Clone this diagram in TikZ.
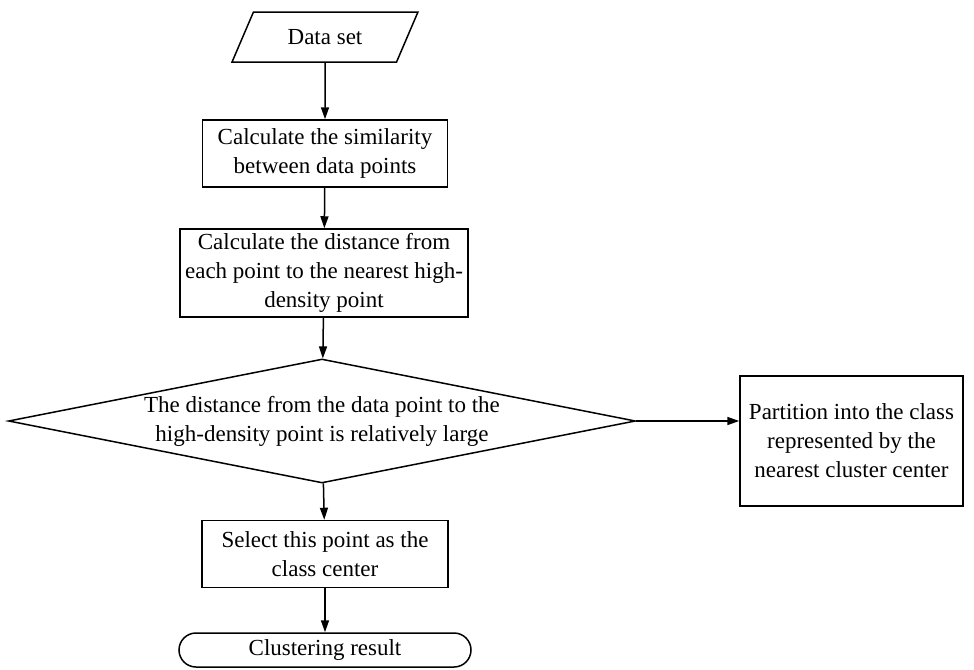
\documentclass[tikz,border=0pt]{standalone}
\usepackage{fontspec}
\setmainfont{Liberation Serif}
\usepackage{tikz}
\usetikzlibrary{arrows.meta,shapes.misc,shapes.geometric}

\tikzset{
  blk/.style={draw,line width=0.75pt,align=center,inner sep=2pt},
  flow/.style={-{Triangle[length=6pt,width=4pt]},line width=0.75pt}
}

\begin{document}
\begin{tikzpicture}[x=0.5pt,y=-0.5pt,font=\fontsize{11.5}{14.5}\selectfont]
  \useasboundingbox (0,0) rectangle (974,669);
  \node[blk,trapezium,trapezium left angle=62,trapezium right angle=118,trapezium stretches=true,
        minimum width=93pt,minimum height=25pt] (data) at (325,37) {Data set};
  \node[blk,minimum width=122.5pt,minimum height=33.5pt] (sim) at (325,153.5)
    {Calculate the similarity\\between data points};
  \node[blk,minimum width=144pt,minimum height=44pt] (dist) at (324,273)
    {Calculate the distance from\\each point to the nearest high-\\density point};
  \node[blk,diamond,aspect=5.06,inner sep=0pt,minimum width=313.5pt,minimum height=62pt] (judge) at (322,421)
    {The distance from the data point to the\\high-density point is relatively large};
  \node[blk,minimum width=111.5pt,minimum height=65pt] (part) at (851.5,441)
    {Partition into the class\\represented by the\\nearest cluster center};
  \node[blk,minimum width=123pt,minimum height=33.5pt] (sel) at (325,554)
    {Select this point as the\\class center};
  \node[blk,rounded rectangle,minimum width=150pt,minimum height=17pt] (res) at (325,650)
    {Clustering result};
  % connectors
  \draw[flow] (data) -- (sim);
  \draw[flow] (sim) -- (dist);
  \draw[flow] (dist) -- (judge);
  \draw[flow] (judge.east) -- (judge.east -| part.west);
  \draw[flow] (judge) -- (sel);
  \draw[flow] (sel) -- (res);
\end{tikzpicture}
\end{document}
